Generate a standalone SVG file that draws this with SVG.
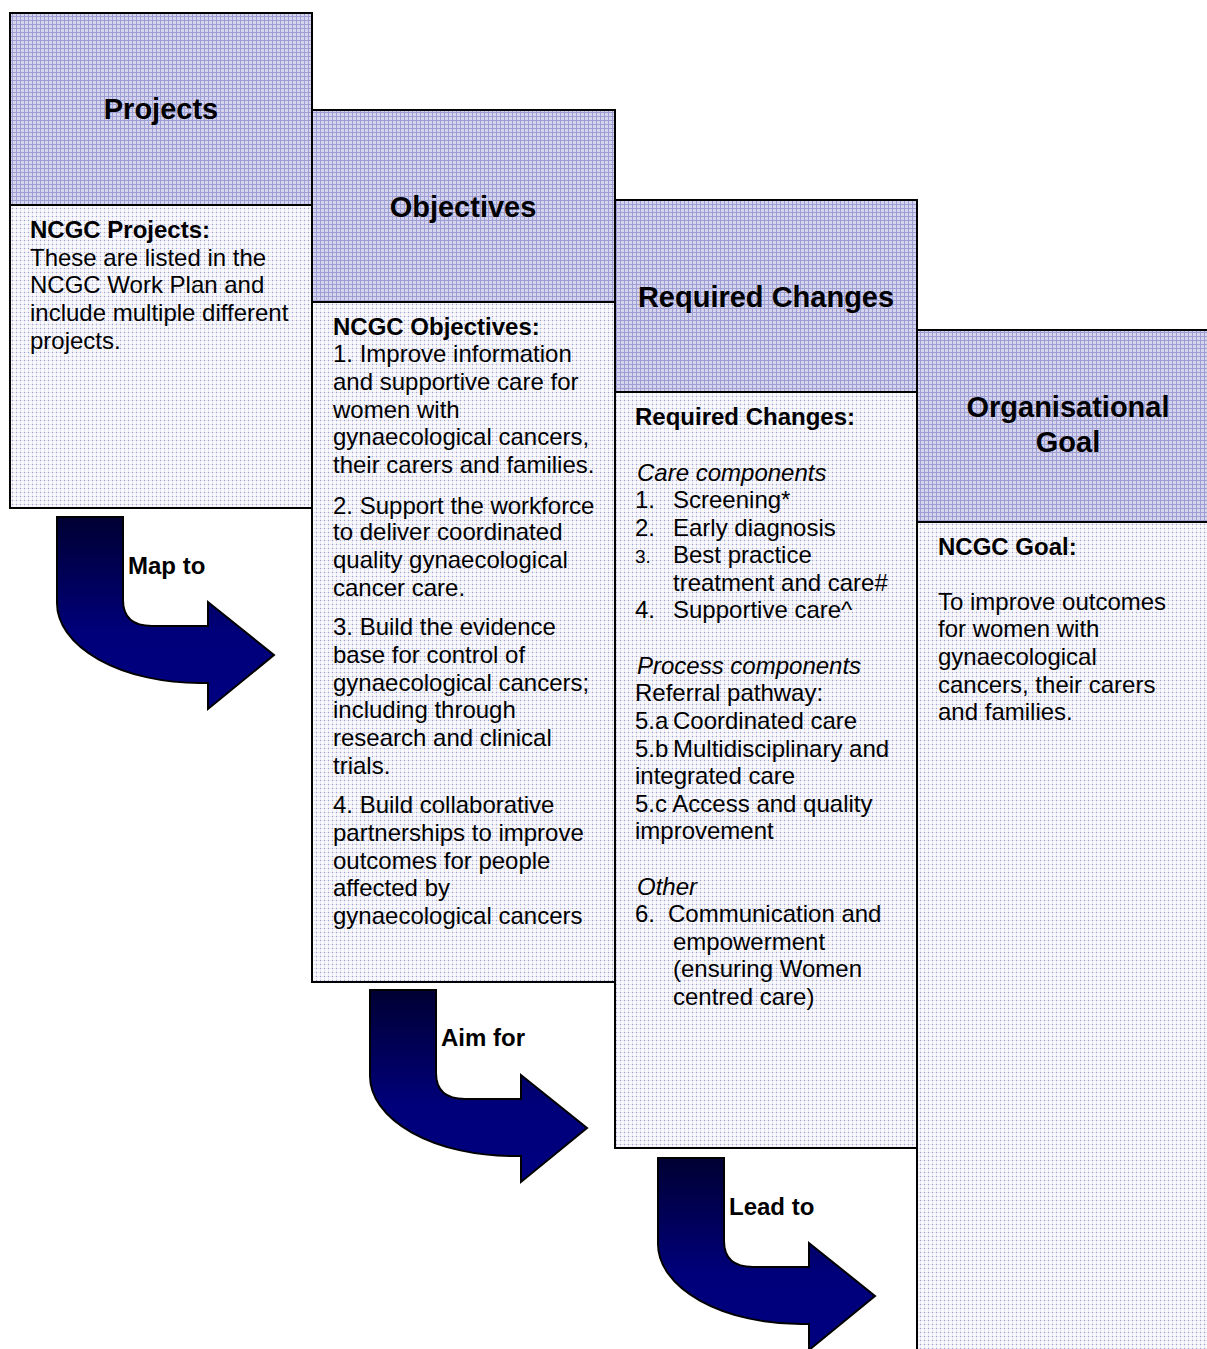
<svg xmlns="http://www.w3.org/2000/svg" width="1207" height="1349" viewBox="0 0 1207 1349">
<style>
  .hdr { fill: url(#hdrPat); stroke: #000; stroke-width: 2; }
  .body { fill: url(#bodyPat); stroke: #000; stroke-width: 2; }
  .t { font-family: "Liberation Sans", Arial, sans-serif; font-size: 24px; fill: #000; }
  .b { font-weight: bold; }
  .i { font-style: italic; }
  .h { font-family: "Liberation Sans", Arial, sans-serif; font-size: 29px; font-weight: bold; fill: #000; text-anchor: middle; }
  .lbl { font-family: "Liberation Sans", Arial, sans-serif; font-size: 24px; font-weight: bold; fill: #000; }
  .arrow { fill: url(#arrowGrad); stroke: #000; stroke-width: 2; stroke-linejoin: miter; }
</style>
<defs>
  <pattern id="hdrPat" patternUnits="userSpaceOnUse" width="4" height="4">
    <rect width="4" height="4" fill="#d4d4ef"/>
    <rect width="4" height="1" fill="#9e9ed3"/>
    <rect width="1" height="4" fill="#9e9ed3"/>
  </pattern>
  <pattern id="bodyPat" patternUnits="userSpaceOnUse" width="4" height="4">
    <rect width="4" height="4" fill="#fafafd"/>
    <rect width="4" height="1" fill="#e8e8f5"/>
    <rect width="1" height="4" fill="#e8e8f5"/>
    <rect width="1" height="1" fill="#a2a2d2"/>
  </pattern>
  <linearGradient id="arrowGrad" x1="0" y1="0" x2="0" y2="1">
    <stop offset="0" stop-color="#000033"/>
    <stop offset="0.6" stop-color="#00007a"/>
    <stop offset="1" stop-color="#000080"/>
  </linearGradient>
  <path id="bentArrow" d="M57,517 H123 V600 Q123,626 152,626 H208 V602 L274,655 L208,709 V683 H200 A143,80 0 0 1 57,603 Z"/>
</defs>

<g id="node-projects">
  <rect class="hdr" x="10" y="13" width="302" height="192"/>
  <rect class="body" x="10" y="205" width="302" height="303"/>
  <text class="h" x="161" y="119">Projects</text>
  <text class="t b" x="30" y="238">NCGC Projects:</text>
  <text class="t" x="30" y="266">These are listed in the</text>
  <text class="t" x="30" y="293">NCGC Work Plan and</text>
  <text class="t" x="30" y="321">include multiple different</text>
  <text class="t" x="30" y="349">projects.</text>
</g>

<g id="node-objectives">
  <rect class="hdr" x="312" y="110" width="303" height="192"/>
  <rect class="body" x="312" y="302" width="303" height="680"/>
  <text class="h" x="463" y="217">Objectives</text>
  <text class="t b" x="333" y="335">NCGC Objectives:</text>
  <text class="t" x="333" y="362">1. Improve information</text>
  <text class="t" x="333" y="390">and supportive care for</text>
  <text class="t" x="333" y="418">women with</text>
  <text class="t" x="333" y="445">gynaecological cancers,</text>
  <text class="t" x="333" y="473">their carers and families.</text>
  <text class="t" x="333" y="514">2. Support the workforce</text>
  <text class="t" x="333" y="540">to deliver coordinated</text>
  <text class="t" x="333" y="568">quality gynaecological</text>
  <text class="t" x="333" y="596">cancer care.</text>
  <text class="t" x="333" y="635">3. Build the evidence</text>
  <text class="t" x="333" y="663">base for control of</text>
  <text class="t" x="333" y="691">gynaecological cancers;</text>
  <text class="t" x="333" y="718">including through</text>
  <text class="t" x="333" y="746">research and clinical</text>
  <text class="t" x="333" y="774">trials.</text>
  <text class="t" x="333" y="813">4. Build collaborative</text>
  <text class="t" x="333" y="841">partnerships to improve</text>
  <text class="t" x="333" y="869">outcomes for people</text>
  <text class="t" x="333" y="896">affected by</text>
  <text class="t" x="333" y="924">gynaecological cancers</text>
</g>

<g id="node-required-changes">
  <rect class="hdr" x="615" y="200" width="302" height="192"/>
  <rect class="body" x="615" y="392" width="302" height="756"/>
  <text class="h" x="766" y="307">Required Changes</text>
  <text class="t b" x="635" y="425">Required Changes:</text>
  <text class="t i" x="637" y="481">Care components</text>
  <text class="t" x="635" y="508">1.</text><text class="t" x="673" y="508">Screening*</text>
  <text class="t" x="635" y="536">2.</text><text class="t" x="673" y="536">Early diagnosis</text>
  <text class="t" x="635" y="563" style="font-size:19px">3.</text><text class="t" x="673" y="563">Best practice</text>
  <text class="t" x="673" y="591">treatment and care#</text>
  <text class="t" x="635" y="618">4.</text><text class="t" x="673" y="618">Supportive care^</text>
  <text class="t i" x="637" y="674">Process components</text>
  <text class="t" x="635" y="701">Referral pathway:</text>
  <text class="t" x="635" y="729">5.a</text><text class="t" x="673" y="729">Coordinated care</text>
  <text class="t" x="635" y="757">5.b</text><text class="t" x="673" y="757">Multidisciplinary and</text>
  <text class="t" x="635" y="784">integrated care</text>
  <text class="t" x="635" y="812">5.c Access and quality</text>
  <text class="t" x="635" y="839">improvement</text>
  <text class="t i" x="637" y="895">Other</text>
  <text class="t" x="635" y="922">6.</text><text class="t" x="668" y="922">Communication and</text>
  <text class="t" x="673" y="950">empowerment</text>
  <text class="t" x="673" y="977">(ensuring Women</text>
  <text class="t" x="673" y="1005">centred care)</text>
</g>

<g id="node-goal">
  <rect class="hdr" x="917" y="330" width="300" height="192"/>
  <rect class="body" x="917" y="522" width="300" height="840"/>
  <text class="h" x="1068" y="417">Organisational</text>
  <text class="h" x="1068" y="452">Goal</text>
  <text class="t b" x="938" y="555">NCGC Goal:</text>
  <text class="t" x="938" y="610">To improve outcomes</text>
  <text class="t" x="938" y="637">for women with</text>
  <text class="t" x="938" y="665">gynaecological</text>
  <text class="t" x="938" y="693">cancers, their carers</text>
  <text class="t" x="938" y="720">and families.</text>
</g>

<g id="connectors">
  <g id="arrow-map-to">
    <use href="#bentArrow" class="arrow"/>
    <text class="lbl" x="128" y="574">Map to</text>
  </g>
  <g id="arrow-aim-for">
    <use href="#bentArrow" class="arrow" transform="translate(313,473)"/>
    <text class="lbl" x="441" y="1046">Aim for</text>
  </g>
  <g id="arrow-lead-to">
    <use href="#bentArrow" class="arrow" transform="translate(601,641)"/>
    <text class="lbl" x="729" y="1215">Lead to</text>
  </g>
</g>
</svg>
